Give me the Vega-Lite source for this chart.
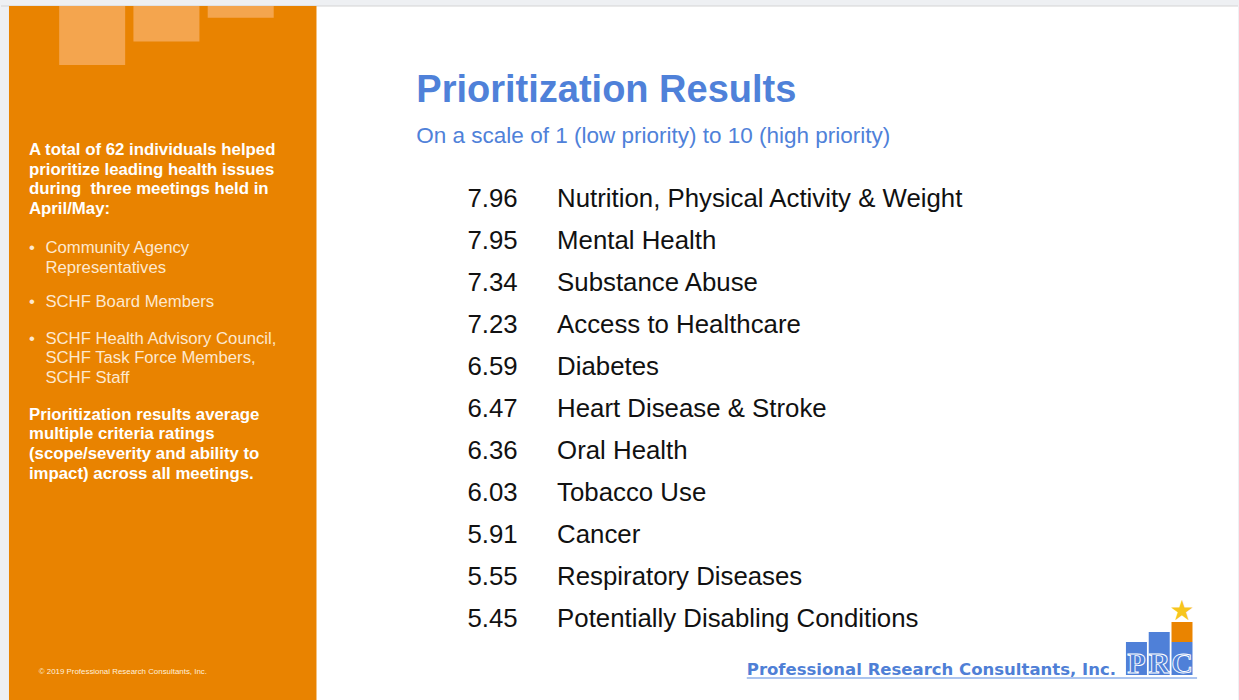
{
  "$schema": "https://vega.github.io/schema/vega-lite/v6.json",
  "width": 1239,
  "height": 700,
  "autosize": {"type": "fit", "contains": "padding"},
  "padding": 0,
  "background": "#eef0f3",
  "config": {"view": {"stroke": null}, "text": {"font": "Liberation Sans"}},
  "resolve": {"scale": {"x": "independent", "y": "independent", "color": "independent"}},
  "layer": [
    {
      "data": {"values": [{"panel": "slide"}]},
      "layer": [
        {
          "mark": {"type": "rect", "color": "#ffffff"},
          "encoding": {
            "x": {"datum": 0, "type": "quantitative", "axis": null, "scale": {"domain": [-0.025974, 3.996753], "nice": false, "zero": false}},
            "x2": {"datum": 3.996753},
            "y": {"datum": 0, "type": "quantitative", "axis": null, "scale": {"domain": [-0.008646, 1], "reverse": true, "nice": false, "zero": false}},
            "y2": {"datum": 1}
          }
        },
        {
          "mark": {"type": "rule", "color": "#d4d4d4", "strokeWidth": 1},
          "encoding": {
            "x": {"datum": -0.025974, "type": "quantitative", "axis": null},
            "x2": {"datum": 3.996753},
            "y": {"datum": 0, "type": "quantitative", "axis": null}
          }
        },
        {
          "mark": {"type": "rect", "color": "#E98300"},
          "encoding": {
            "x": {"datum": 0, "type": "quantitative", "axis": null},
            "x2": {"datum": 1},
            "y": {"datum": 0, "type": "quantitative", "axis": null},
            "y2": {"datum": 1}
          }
        }
      ]
    },
    {
      "data": {"values": [{"block": 1, "level": 5}, {"block": 2, "level": 3}, {"block": 3, "level": 1}]},
      "mark": {"type": "bar", "orient": "vertical", "width": 66, "color": "#F4A54E"},
      "encoding": {
        "x": {"field": "block", "type": "quantitative", "axis": null, "scale": {"domain": [-0.16, 16.36], "nice": false, "zero": false}},
        "y": {"field": "level", "type": "quantitative", "axis": null, "scale": {"domain": [-0.5085, 58.8136], "reverse": true, "nice": false, "zero": false}}
      }
    },
    {
      "data": {"values": [
        {"line": 0, "indent": 0, "style": "bold", "text": "A total of 62 individuals helped"},
        {"line": 1, "indent": 0, "style": "bold", "text": "prioritize leading health issues"},
        {"line": 2, "indent": 0, "style": "bold", "text": "during \u00a0three meetings held in"},
        {"line": 3, "indent": 0, "style": "bold", "text": "April/May:"},
        {"line": 4.95, "indent": 0, "style": "bullet", "text": "•"},
        {"line": 4.95, "indent": 1, "style": "item", "text": "Community Agency"},
        {"line": 5.95, "indent": 1, "style": "item", "text": "Representatives"},
        {"line": 7.7, "indent": 0, "style": "bullet", "text": "•"},
        {"line": 7.7, "indent": 1, "style": "item", "text": "SCHF Board Members"},
        {"line": 9.55, "indent": 0, "style": "bullet", "text": "•"},
        {"line": 9.55, "indent": 1, "style": "item", "text": "SCHF Health Advisory Council,"},
        {"line": 10.55, "indent": 1, "style": "item", "text": "SCHF Task Force Members,"},
        {"line": 11.55, "indent": 1, "style": "item", "text": "SCHF Staff"},
        {"line": 13.4, "indent": 0, "style": "bold", "text": "Prioritization results average"},
        {"line": 14.4, "indent": 0, "style": "bold", "text": "multiple criteria ratings"},
        {"line": 15.4, "indent": 0, "style": "bold", "text": "(scope/severity and ability to"},
        {"line": 16.4, "indent": 0, "style": "bold", "text": "impact) across all meetings."},
        {"line": 26.3, "indent": 0.6, "style": "footer", "text": "© 2019 Professional Research Consultants, Inc."}
      ]},
      "encoding": {
        "x": {"field": "indent", "type": "quantitative", "axis": null, "scale": {"domain": [-1.69697, 73.39394], "nice": false, "zero": false}},
        "y": {"field": "line", "type": "quantitative", "axis": null, "scale": {"domain": [-7.8481, 27.59494], "reverse": true, "nice": false, "zero": false}},
        "text": {"field": "text"}
      },
      "layer": [
        {"transform": [{"filter": "datum.style === 'bold'"}], "mark": {"type": "text", "align": "left", "baseline": "alphabetic", "fontWeight": "bold", "fontSize": 16.8, "color": "#ffffff"}},
        {"transform": [{"filter": "datum.style === 'item' || datum.style === 'bullet'"}], "mark": {"type": "text", "align": "left", "baseline": "alphabetic", "fontSize": 16.7, "color": "#fde8cf"}},
        {"transform": [{"filter": "datum.style === 'footer'"}], "mark": {"type": "text", "align": "left", "baseline": "alphabetic", "fontSize": 7.9, "color": "#fff0dc"}}
      ]
    },
    {
      "data": {"values": [
        {"line": 0, "part": "title", "text": "Prioritization Results"},
        {"line": 1, "part": "subtitle", "text": "On a scale of 1 (low priority) to 10 (high priority)"}
      ]},
      "encoding": {
        "x": {"datum": "heading", "type": "nominal", "axis": null, "scale": {"type": "point", "domain": ["heading"], "padding": 1, "align": 0.33575}},
        "y": {"field": "line", "type": "quantitative", "axis": null, "scale": {"domain": [-2.49265, 14.66422], "reverse": true, "nice": false, "zero": false}},
        "text": {"field": "text"}
      },
      "layer": [
        {"transform": [{"filter": "datum.part === 'title'"}], "mark": {"type": "text", "align": "left", "baseline": "alphabetic", "fontSize": 38, "fontWeight": "bold", "color": "#4f81d9"}},
        {"transform": [{"filter": "datum.part === 'subtitle'"}], "mark": {"type": "text", "align": "left", "baseline": "alphabetic", "fontSize": 22.5, "color": "#4f81d9"}}
      ]
    },
    {
      "data": {"values": [
        {"rank": 1, "score": 7.96, "issue": "Nutrition, Physical Activity & Weight"},
        {"rank": 2, "score": 7.95, "issue": "Mental Health"},
        {"rank": 3, "score": 7.34, "issue": "Substance Abuse"},
        {"rank": 4, "score": 7.23, "issue": "Access to Healthcare"},
        {"rank": 5, "score": 6.59, "issue": "Diabetes"},
        {"rank": 6, "score": 6.47, "issue": "Heart Disease & Stroke"},
        {"rank": 7, "score": 6.36, "issue": "Oral Health"},
        {"rank": 8, "score": 6.03, "issue": "Tobacco Use"},
        {"rank": 9, "score": 5.91, "issue": "Cancer"},
        {"rank": 10, "score": 5.55, "issue": "Respiratory Diseases"},
        {"rank": 11, "score": 5.45, "issue": "Potentially Disabling Conditions"}
      ]},
      "encoding": {
        "y": {"field": "rank", "type": "quantitative", "axis": null, "scale": {"domain": [-3.92857, 12.7381], "reverse": true, "nice": false, "zero": false}}
      },
      "layer": [
        {
          "mark": {"type": "text", "align": "right", "baseline": "alphabetic", "fontSize": 25.8, "color": "#111111"},
          "encoding": {
            "x": {"datum": 0, "type": "quantitative", "axis": null, "scale": {"domain": [-13.1013, 18.2658], "nice": false, "zero": false}},
            "text": {"field": "score", "type": "quantitative", "format": ".2f"}
          }
        },
        {
          "mark": {"type": "text", "align": "left", "baseline": "alphabetic", "fontSize": 25.8, "color": "#111111"},
          "encoding": {
            "x": {"datum": 1, "type": "quantitative", "axis": null},
            "text": {"field": "issue"}
          }
        }
      ]
    },
    {
      "data": {"values": [{"company": "Professional Research Consultants, Inc."}]},
      "layer": [
        {
          "mark": {"type": "text", "align": "left", "baseline": "alphabetic", "font": "DejaVu Sans", "fontWeight": "bold", "fontSize": 16.5, "color": "#4f7fd6"},
          "encoding": {
            "x": {"datum": "name", "type": "nominal", "axis": null, "scale": {"type": "point", "domain": ["name", "end"], "padding": 0.87361, "align": 0.94797}},
            "y": {"datum": 0, "type": "quantitative", "axis": null, "scale": {"domain": [-25, 675], "nice": false, "zero": false}},
            "text": {"field": "company"}
          }
        },
        {
          "mark": {"type": "rule", "color": "#8fb0ea", "strokeWidth": 1.5},
          "encoding": {
            "x": {"datum": "name", "type": "nominal", "axis": null},
            "x2": {"datum": "end"},
            "y": {"datum": -3, "type": "quantitative", "axis": null}
          }
        }
      ]
    },
    {
      "data": {"values": [
        {"letter": "P", "slot": 0, "part": "blue", "h": 33},
        {"letter": "R", "slot": 1, "part": "blue", "h": 43},
        {"letter": "C", "slot": 2, "part": "blue", "h": 33},
        {"letter": "C", "slot": 2, "part": "orange", "h": 20}
      ]},
      "encoding": {
        "x": {"field": "slot", "type": "quantitative", "axis": null, "scale": {"domain": [-49.6304, 4.23913], "nice": false, "zero": false}}
      },
      "layer": [
        {
          "mark": {"type": "bar", "orient": "vertical", "width": 21},
          "encoding": {
            "y": {"field": "h", "type": "quantitative", "stack": "zero", "axis": null, "scale": {"domain": [-25, 675], "nice": false, "zero": false}},
            "color": {"field": "part", "type": "nominal", "legend": null, "scale": {"domain": ["blue", "orange"], "range": ["#4f80d8", "#ea8400"]}},
            "order": {"field": "part"}
          }
        },
        {
          "transform": [{"filter": "datum.part === 'blue'"}],
          "mark": {"type": "text", "align": "center", "baseline": "alphabetic", "font": "Liberation Serif", "fontWeight": "bold", "fontSize": 30, "fill": null, "stroke": "#ffffff", "strokeWidth": 0.9},
          "encoding": {
            "y": {"datum": 2, "type": "quantitative", "axis": null},
            "text": {"field": "letter"}
          }
        },
        {
          "transform": [{"filter": "datum.part === 'orange'"}],
          "mark": {"type": "text", "align": "center", "baseline": "middle", "font": "DejaVu Sans", "fontSize": 28, "color": "#f7c51e", "text": "★"},
          "encoding": {
            "y": {"datum": 63, "type": "quantitative", "axis": null}
          }
        }
      ]
    }
  ]
}
